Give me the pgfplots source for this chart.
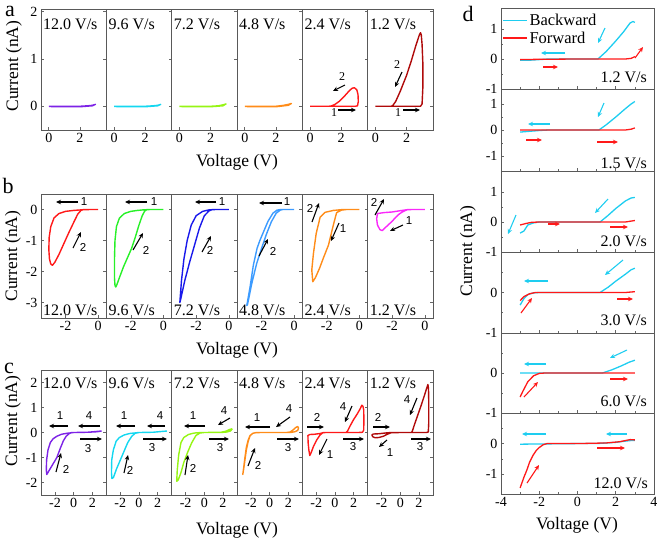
\documentclass[border=0pt]{standalone}
\usepackage{fontspec}
\setmainfont{Liberation Serif}
\newfontfamily\tnr{Liberation Serif}
\newfontfamily\arial{Liberation Sans}
\usepackage{pgfplots}
\pgfplotsset{compat=1.18}
\usetikzlibrary{arrows.meta}

\definecolor{cviolet}{RGB}{125,35,230}
\definecolor{ccyan}{RGB}{20,215,240}
\definecolor{clime}{RGB}{150,245,20}
\definecolor{corange}{RGB}{255,140,25}
\definecolor{cred}{RGB}{255,25,25}
\definecolor{cdark}{RGB}{175,10,10}
\definecolor{cgreen}{RGB}{40,240,40}
\definecolor{cblue}{RGB}{25,25,235}
\definecolor{clblue}{RGB}{60,155,255}
\definecolor{cmag}{RGB}{250,40,250}
\definecolor{dcyan}{RGB}{30,205,240}
\definecolor{dred}{RGB}{255,25,25}

\pgfplotsset{
  sub/.style={scale only axis, anchor=north west, clip=true,
    axis line style={draw=black!65, line width=0.7pt},
    tick style={draw=black!60, line width=0.6pt}, tick align=inside,
    major tick length=3pt, minor tick length=1.8pt,
    xtick pos=bottom,
    ticklabel style={font=\tnr\fontsize{14}{14}\selectfont},
    /pgf/number format/assume math mode=true,
    every axis plot/.append style={line width=1.4pt, line join=round, mark=none}},
  noy/.style={yticklabels={}, ytick pos=right},
  noxl/.style={xticklabels={}},
  pa/.style={sub, width=65.3pt, height=121pt, xmin=-0.5, xmax=3.7, ymin=-0.5, ymax=2.05, xtick={0,2}, ytick={0,1,2}},
  pb/.style={sub, width=65.3pt, height=124pt, xmin=-3.5, xmax=0.5, ymin=-3.5, ymax=0.5, xtick={-2,0}, ytick={-3,-2,-1,0}},
  pc/.style={sub, width=65.3pt, height=125pt, xmin=-3.5, xmax=3.5, ymin=-2.5, ymax=2.5, xtick={-2,0,2}, ytick={-2,-1,0,1,2}},
  pd/.style={sub, width=153pt, xmin=-4, xmax=4, xtick={-4,-2,0,2,4}, ytick={-1,0,1}, minor x tick num=1, minor y tick num=1,
    ytick pos=left, every axis plot/.append style={line width=1.3pt}},
}
\tikzset{
  spd/.style={font=\tnr\fontsize{16}{16}\selectfont, inner sep=0pt},
  lab/.style={font=\tnr\fontsize{17.5}{17.5}\selectfont, inner sep=0pt},
  plet/.style={font=\tnr\fontsize{22}{22}\selectfont, inner sep=0pt, anchor=base},
  num/.style={font=\arial\fontsize{11.5}{11.5}\selectfont, inner sep=0pt},
  snum/.style={font=\tnr\fontsize{12}{12}\selectfont, inner sep=0pt},
  arr/.style={-{Stealth[length=5pt,width=4.5pt]}, line width=1.1pt},
}

\begin{document}
\begin{tikzpicture}
% ---------------- panel a ----------------
\begin{axis}[pa, at={(41pt,-9pt)}]
\addplot[cviolet] coordinates {(0,0) (0.5,0) (1,0) (1.5,0) (2,0) (2.5,0.01) (2.8,0.02) (3,0.04) (2.8,0.01) (2,-0.01) (1,-0.01) (0,-0.005)};
\end{axis}
\begin{axis}[pa, noy, at={(106.33pt,-9pt)}]
\addplot[ccyan] coordinates {(0,0) (0.5,0) (1,0) (1.5,0) (2,0) (2.5,0.01) (2.8,0.02) (3,0.04) (2.8,0.01) (2,-0.01) (1,-0.01) (0,-0.005)};
\end{axis}
\begin{axis}[pa, noy, at={(171.67pt,-9pt)}]
\addplot[clime] coordinates {(0,0) (0.5,0) (1,0) (1.5,0) (2,0) (2.5,0.01) (2.8,0.03) (3,0.05) (2.8,0.01) (2,-0.01) (1,-0.01) (0,-0.005)};
\end{axis}
\begin{axis}[pa, noy, at={(237pt,-9pt)}]
\addplot[corange] coordinates {(0,0) (0.5,0) (1,0) (1.5,0) (2,0) (2.5,0.02) (2.8,0.04) (3,0.06) (2.8,0.02) (2,-0.01) (1,-0.01) (0,-0.005)};
\end{axis}
\begin{axis}[pa, noy, at={(302.33pt,-9pt)}]
\addplot[cred] coordinates {(0,0) (1,0) (2,0) (2.9,0) (3.05,0.01) (3.1,0.1) (3.08,0.25) (3.0,0.35) (2.85,0.39) (2.7,0.38) (2.5,0.32) (2.2,0.21) (1.9,0.11) (1.6,0.04) (1.35,0.005) (1.2,0) (0.5,0) (0,0)};
\end{axis}
\begin{axis}[pa, noy, at={(367.67pt,-9pt)}]
\addplot[cdark] coordinates {(0,0) (1,0) (2,0) (2.9,0) (3.0,0.05) (3.05,0.4) (3.05,0.9) (3.0,1.3) (2.95,1.5) (2.9,1.55) (2.82,1.5) (2.6,1.28) (2.3,0.95) (2.0,0.65) (1.6,0.32) (1.3,0.1) (1.1,0.01) (1.0,0) (0,0)};
\end{axis}

% ---------------- panel b ----------------
\begin{axis}[pb, at={(41pt,-194pt)}]
\addplot[cred] coordinates {(0,0) (-0.5,0) (-1.0,-0.01) (-1.5,-0.03) (-2.0,-0.06) (-2.4,-0.13) (-2.7,-0.27) (-2.9,-0.55) (-3.0,-0.9) (-3.02,-1.3) (-2.98,-1.6) (-2.9,-1.76) (-2.8,-1.8) (-2.65,-1.7) (-2.4,-1.45) (-2.1,-1.1) (-1.8,-0.75) (-1.5,-0.42) (-1.25,-0.15) (-1.05,-0.03) (-0.9,0) (0,0)};
\end{axis}
\begin{axis}[pb, noy, at={(106.33pt,-194pt)}]
\addplot[cgreen] coordinates {(0,0) (-0.8,0) (-1.2,-0.01) (-1.6,-0.03) (-2.0,-0.06) (-2.4,-0.13) (-2.7,-0.28) (-2.88,-0.55) (-2.97,-1.0) (-3.0,-1.6) (-3.0,-2.2) (-2.97,-2.45) (-2.92,-2.5) (-2.85,-2.42) (-2.7,-2.2) (-2.45,-1.85) (-2.2,-1.55) (-1.95,-1.25) (-1.7,-0.85) (-1.5,-0.5) (-1.3,-0.2) (-1.15,-0.05) (-1.0,0) (0,0)};
\end{axis}
\begin{axis}[pb, noy, at={(171.67pt,-194pt)}]
\addplot[cblue] coordinates {(0,0) (-0.8,0) (-1.2,-0.01) (-1.6,-0.06) (-2.0,-0.2) (-2.3,-0.5) (-2.55,-1.0) (-2.75,-1.6) (-2.9,-2.3) (-3.0,-3.0) (-2.95,-2.9) (-2.7,-2.3) (-2.4,-1.7) (-2.1,-1.15) (-1.8,-0.6) (-1.5,-0.2) (-1.2,-0.04) (-1.0,0) (0,0)};
\end{axis}
\begin{axis}[pb, noy, at={(237pt,-194pt)}]
\addplot[clblue] coordinates {(0,0) (-0.8,0) (-1.05,-0.02) (-1.3,-0.12) (-1.6,-0.38) (-1.9,-0.75) (-2.1,-1.0) (-2.27,-1.25) (-2.5,-1.8) (-2.7,-2.5) (-2.9,-3.1) (-2.85,-3.05) (-2.6,-2.4) (-2.3,-1.75) (-1.96,-1.2) (-1.7,-0.8) (-1.4,-0.4) (-1.1,-0.12) (-0.85,-0.02) (-0.7,0) (0,0)};
\end{axis}
\begin{axis}[pb, noy, at={(302.33pt,-194pt)}]
\addplot[corange] coordinates {(0,0) (-1.0,0) (-1.6,-0.03) (-2.1,-0.09) (-2.41,-0.25) (-2.65,-0.77) (-2.82,-1.42) (-2.92,-1.95) (-2.86,-2.33) (-2.7,-2.2) (-2.45,-1.9) (-2.2,-1.55) (-1.9,-1.15) (-1.6,-0.5) (-1.4,-0.1) (-1.1,-0.02) (-0.8,0) (0,0)};
\end{axis}
\begin{axis}[pb, noy, at={(367.67pt,-194pt)}]
\addplot[cmag] coordinates {(0,0) (-1.0,0) (-1.4,-0.03) (-2.0,-0.08) (-2.5,-0.1) (-2.9,-0.13) (-2.95,-0.3) (-2.9,-0.5) (-2.75,-0.65) (-2.6,-0.68) (-2.45,-0.6) (-2.25,-0.5) (-2.0,-0.38) (-1.8,-0.26) (-1.6,-0.16) (-1.38,-0.08) (-1.1,-0.01) (-0.8,0) (0,0)};
\end{axis}

% ---------------- panel c ----------------
\begin{axis}[pc, at={(41pt,-370pt)}]
\addplot[cviolet] coordinates {(3,0.06) (2.5,0.03) (1.5,0.01) (0,0) (-0.7,-0.03) (-1.3,-0.07) (-1.8,-0.15) (-2.2,-0.25) (-2.5,-0.4) (-2.75,-0.7) (-2.9,-1.1) (-2.93,-1.5) (-2.88,-1.68) (-2.6,-1.5) (-2.2,-1.25) (-1.8,-1.0) (-1.45,-0.65) (-1.1,-0.33) (-0.8,-0.15) (-0.5,-0.05) (-0.2,0) (0,0) (1.5,0.01) (3,0.06)};
\end{axis}
\begin{axis}[pc, noy, at={(106.33pt,-370pt)}]
\addplot[ccyan] coordinates {(3,0.06) (1.5,0.01) (0,0) (-1.0,-0.04) (-1.6,-0.1) (-2.1,-0.2) (-2.45,-0.35) (-2.75,-0.7) (-2.92,-1.1) (-2.95,-1.6) (-2.9,-1.84) (-2.74,-1.8) (-2.4,-1.45) (-2.0,-1.1) (-1.67,-0.81) (-1.2,-0.4) (-0.77,-0.15) (-0.4,-0.03) (0,0) (1.5,0.01) (3,0.06)};
\end{axis}
\begin{axis}[pc, noy, at={(171.67pt,-370pt)}]
\addplot[clime] coordinates {(3,0.15) (2.7,0.12) (2.3,0.05) (1.8,0.01) (0,0) (-0.8,-0.01) (-1.2,-0.03) (-1.7,-0.08) (-2.2,-0.2) (-2.5,-0.4) (-2.75,-0.9) (-2.9,-1.5) (-2.96,-1.95) (-2.8,-1.9) (-2.5,-1.6) (-2.2,-1.2) (-1.8,-0.8) (-1.35,-0.41) (-0.9,-0.12) (-0.46,-0.02) (0,0) (1.8,0) (2.4,0.02) (2.8,0.06) (3,0.15)};
\end{axis}
\begin{axis}[pc, noy, at={(237pt,-370pt)}]
\addplot[corange] coordinates {(0,0) (1.8,0) (2.2,0.02) (2.5,0.1) (2.8,0.2) (3.0,0.24) (3.1,0.18) (3.0,0.08) (2.7,0.03) (2.2,0) (0,0) (-1.0,0) (-1.5,-0.01) (-1.8,-0.03) (-2.1,-0.12) (-2.3,-0.3) (-2.5,-0.6) (-2.65,-1.0) (-2.78,-1.4) (-2.88,-1.68) (-2.8,-1.5) (-2.65,-1.1) (-2.5,-0.7) (-2.3,-0.35) (-2.1,-0.13) (-1.8,-0.03) (-1.4,0) (0,0)};
\end{axis}
\begin{axis}[pc, noy, at={(302.33pt,-370pt)}]
\addplot[cred] coordinates {(0,0) (2.5,0) (2.95,0.01) (3.08,0.1) (3.1,0.5) (3.08,0.9) (3.0,1.05) (2.88,1.09) (2.7,0.95) (2.4,0.75) (2.0,0.52) (1.6,0.25) (1.35,0.06) (1.2,0) (0,0) (-1.2,0) (-1.6,-0.04) (-2.2,-0.07) (-2.7,-0.08) (-2.9,-0.12) (-2.88,-0.4) (-2.8,-0.7) (-2.7,-0.92) (-2.55,-0.8) (-2.3,-0.55) (-1.96,-0.3) (-1.6,-0.1) (-1.3,-0.01) (-1.0,0) (0,0)};
\end{axis}
\begin{axis}[pc, noy, at={(367.67pt,-370pt)}]
\addplot[cdark] coordinates {(0,0) (2.8,0) (3.0,0.02) (3.05,0.4) (3.05,1.2) (3.02,1.75) (2.96,1.92) (2.85,1.8) (2.6,1.5) (2.2,1.05) (1.8,0.62) (1.5,0.3) (1.3,0.07) (1.2,0) (0,0) (-1.0,0) (-1.6,-0.02) (-2.3,-0.05) (-2.9,-0.06) (-3.05,-0.1) (-2.95,-0.17) (-2.7,-0.21) (-2.3,-0.2) (-1.82,-0.15) (-1.4,-0.07) (-1.0,-0.01) (0,0)};
\end{axis}

% ---------------- panel d ----------------
\begin{axis}[pd, noxl, height=81pt, at={(501pt,-8pt)}, ymin=-1, ymax=1.7,
  legend style={at={(0.01,1)}, anchor=north west, yshift=-4pt, draw=none, fill=none, inner sep=0pt,
    font=\tnr\fontsize{16.5}{16.5}\selectfont, row sep=2pt, nodes={inner sep=1.5pt}},
  legend cell align=left,
  legend image code/.code={\draw[#1, line width=1.3pt] (0pt,0pt) -- (24pt,0pt);}]
\addplot[dcyan] coordinates {(-3,-0.04) (-2.5,-0.04) (-2.0,-0.02) (-1.5,0) (0,0) (1.07,0) (1.5,0.25) (2.0,0.6) (2.4,0.9) (2.75,1.2) (2.9,1.25) (3.0,1.22)};
\addlegendentry{Backward}
\addplot[dred] coordinates {(-3,-0.02) (-2,-0.01) (0,0) (2.5,0) (2.8,0.02) (3.0,0.08)};
\addlegendentry{Forward}
\end{axis}
\begin{axis}[pd, noxl, height=82pt, at={(501pt,-89pt)}, ymin=-1.58, ymax=1.58]
\addplot[dcyan] coordinates {(-3,-0.08) (-2.5,-0.05) (-2,-0.02) (-1.5,0) (1.12,0) (1.5,0.2) (2,0.5) (2.5,0.82) (2.8,1.0) (3.0,1.1)};
\addplot[dred] coordinates {(-3,0) (2.5,0) (2.8,0.03) (3,0.08)};
\end{axis}
\begin{axis}[pd, noxl, height=81pt, at={(501pt,-171pt)}, ymin=-1, ymax=1.7]
\addplot[dcyan] coordinates {(-3.0,-0.37) (-2.8,-0.3) (-2.6,-0.1) (-2.3,-0.03) (-2,0) (1.18,0) (1.6,0.22) (2.0,0.45) (2.5,0.7) (2.8,0.8) (3.0,0.82)};
\addplot[dred] coordinates {(-3.0,-0.1) (-2.7,-0.05) (-2.4,-0.01) (-2,0) (2.5,0) (3.0,0.05)};
\end{axis}
\begin{axis}[pd, noxl, height=81pt, at={(501pt,-252pt)}, ymin=-1, ymax=1, yticklabels={-1,0,{}}]
\addplot[dcyan] coordinates {(-3.0,-0.31) (-2.8,-0.15) (-2.6,-0.05) (-2.3,-0.01) (-2,0) (1.18,0) (1.6,0.13) (2.0,0.28) (2.5,0.45) (2.8,0.56) (3.0,0.6)};
\addplot[dred] coordinates {(-3.0,-0.2) (-2.8,-0.1) (-2.5,-0.03) (-2.2,0) (2.5,0) (3.0,0.02)};
\end{axis}
\begin{axis}[pd, noxl, height=80pt, at={(501pt,-333pt)}, ymin=-1, ymax=1, yticklabels={-1,0,{}}]
\addplot[dcyan] coordinates {(-3,0) (1.3,0) (1.8,0.08) (2.3,0.18) (2.7,0.27) (3,0.32)};
\addplot[dred] coordinates {(-3.0,-0.6) (-2.85,-0.45) (-2.6,-0.22) (-2.3,-0.07) (-2.0,-0.01) (-1.7,0) (3,0)};
\end{axis}
\begin{axis}[pd, height=81pt, at={(501pt,-413pt)}, ymin=-1.65, ymax=1, yticklabels={-1,0,{}}]
\addplot[dcyan] coordinates {(-3,-0.02) (0,0) (1.0,0) (2.0,0.04) (2.5,0.08) (2.8,0.1) (3,0.1)};
\addplot[dred] coordinates {(-3.0,-1.45) (-2.8,-1.1) (-2.65,-0.87) (-2.5,-0.6) (-2.33,-0.39) (-2.15,-0.22) (-2.0,-0.13) (-1.8,-0.04) (-1.6,0) (0,0) (1.5,0.02) (2.2,0.06) (2.75,0.13) (3.0,0.12)};
\end{axis}

% ---------------- labels and arrows ----------------
\begin{scope}[x=1pt, y=-1pt]
\node[plet] at (10,16) {a};
\node[plet] at (8,193) {b};
\node[plet] at (9,373) {c};
\node[plet] at (468,21) {d};

\node[lab, rotate=90] at (14,66) {Current (nA)};
\node[lab, rotate=90] at (13,256) {Current (nA)};
\node[lab, rotate=90] at (13,421) {Current (nA)};
\node[lab, rotate=90] at (468,251) {Current (nA)};
\node[lab] at (237,162) {Voltage (V)};
\node[lab] at (237,350) {Voltage (V)};
\node[lab] at (237,530) {Voltage (V)};
\node[lab] at (577,525) {Voltage (V)};

% speed labels a, b, c
\foreach \xx/\vv in {43/12.0, 108.33/9.6, 173.67/7.2, 239/4.8, 304.33/2.4, 369.67/1.2}{
  \node[spd, anchor=west] at (\xx,24) {\vv\ V/s};
  \node[spd, anchor=west] at (\xx,310) {\vv\ V/s};
  \node[spd, anchor=west] at (\xx,383) {\vv\ V/s};
}
% speed labels d
\node[spd, anchor=east] at (647,77) {1.2 V/s};
\node[spd, anchor=east] at (647,163) {1.5 V/s};
\node[spd, anchor=east] at (647,241) {2.0 V/s};
\node[spd, anchor=east] at (647,320) {3.0 V/s};
\node[spd, anchor=east] at (647,401) {6.0 V/s};
\node[spd, anchor=east] at (648,483) {12.0 V/s};

% arrows a
\draw[arr] (345,85) -- (333,91); \node[snum] at (342,77) {2};
\draw[arr] (338,110) -- (356,110); \node[snum] at (334,113) {1};
\draw[arr] (402,72) -- (395,87); \node[snum] at (397,65) {2};
\draw[arr] (403,110) -- (420,110); \node[snum] at (398,113) {1};

% arrows b
\draw[arr] (78,202) -- (56,202); \node[num] at (84,202) {1};
\draw[arr] (73,248) -- (81,232); \node[num] at (83,247) {2};
\draw[arr] (147,202) -- (125,202); \node[num] at (154,202) {1};
\draw[arr] (133,250) -- (143,233); \node[num] at (146,250) {2};
\draw[arr] (216,202) -- (195,202); \node[num] at (222,202) {1};
\draw[arr] (202,252) -- (211,236); \node[num] at (210,250) {2};
\draw[arr] (282,203) -- (259,203); \node[num] at (287,202) {1};
\draw[arr] (259,256) -- (268,239); \node[num] at (273,251) {2};
\draw[arr] (312,222) -- (319,203); \node[num] at (310,208) {2};
\draw[arr] (339,223) -- (331,241); \node[num] at (343,229) {1};
\draw[arr] (375,215) -- (384,199); \node[num] at (374,202) {2};
\draw[arr] (403,225) -- (390,231); \node[num] at (409,221) {1};

% arrows c
\draw[arr] (68,426) -- (49,426); \node[num] at (60,416) {1};
\draw[arr] (100,426) -- (78,426); \node[num] at (89,416) {4};
\draw[arr] (80,439) -- (102,439); \node[num] at (88,449) {3};
\draw[arr] (56,472) -- (61,453); \node[num] at (66,469) {2};
\draw[arr] (135,426) -- (116,426); \node[num] at (124,416) {1};
\draw[arr] (165,426) -- (147,426); \node[num] at (160,416) {4};
\draw[arr] (143,439) -- (167,439); \node[num] at (152,448) {3};
\draw[arr] (124,473) -- (128,455); \node[num] at (130,470) {2};
\draw[arr] (205,426) -- (184,426); \node[num] at (193,416) {1};
\draw[arr] (230,418) -- (218,425); \node[num] at (224,411) {4};
\draw[arr] (209,439) -- (229,439); \node[num] at (220,448) {3};
\draw[arr] (185,475) -- (188,455); \node[num] at (193,468) {2};
\draw[arr] (270,427) -- (245,427); \node[num] at (257,418) {1};
\draw[arr] (290,417) -- (276,427); \node[num] at (289,409) {4};
\draw[arr] (277,439) -- (299,439); \node[num] at (288,448) {3};
\draw[arr] (248,466) -- (255,448); \node[num] at (258,465) {2};
\draw[arr] (307,427) -- (324,427); \node[num] at (317,417) {2};
\draw[arr] (352,406) -- (345,422); \node[num] at (343,407) {4};
\draw[arr] (327,439) -- (319,455); \node[num] at (330,455) {1};
\draw[arr] (343,439) -- (364,439); \node[num] at (353,447) {3};
\draw[arr] (373,427) -- (390,427); \node[num] at (378,417) {2};
\draw[arr] (417,398) -- (410,415); \node[num] at (407,400) {4};
\draw[arr] (387,440) -- (379,447); \node[num] at (390,453) {1};
\draw[arr] (411,439) -- (431,439); \node[num] at (420,447) {3};

% arrows d
\begin{scope}[dcyan]
\draw[arr] (565,53) -- (541,53);
\draw[arr] (605,28) -- (598,43);
\draw[arr] (550,124) -- (528,124);
\draw[arr] (604,103) -- (598,117);
\draw[arr] (516,215) -- (508,234);
\draw[arr] (608,199) -- (595,213);
\draw[arr] (548,281) -- (524,281);
\draw[arr] (623,260) -- (605,275);
\draw[arr] (546,364) -- (524,364);
\draw[arr] (627,350) -- (610,358);
\draw[arr] (546,434) -- (522,434);
\draw[arr] (627,434) -- (606,434);
\end{scope}
\begin{scope}[dred]
\draw[arr] (543,67) -- (558,67);
\draw[arr] (635,58) -- (643,47);
\draw[arr] (526,140) -- (542,140);
\draw[arr] (597,142) -- (618,142);
\draw[arr] (548,224) -- (560,224);
\draw[arr] (610,227) -- (628,227);
\draw[arr] (521,313) -- (532,298);
\draw[arr] (617,299) -- (633,299);
\draw[arr] (524,397) -- (538,382);
\draw[arr] (610,379) -- (628,379);
\draw[arr] (527,483) -- (539,465);
\draw[arr] (597,448) -- (625,448);
\end{scope}
\end{scope}

\pgfresetboundingbox
\path[use as bounding box] (0pt,0pt) rectangle (657pt,-539pt);
\end{tikzpicture}
\end{document}
